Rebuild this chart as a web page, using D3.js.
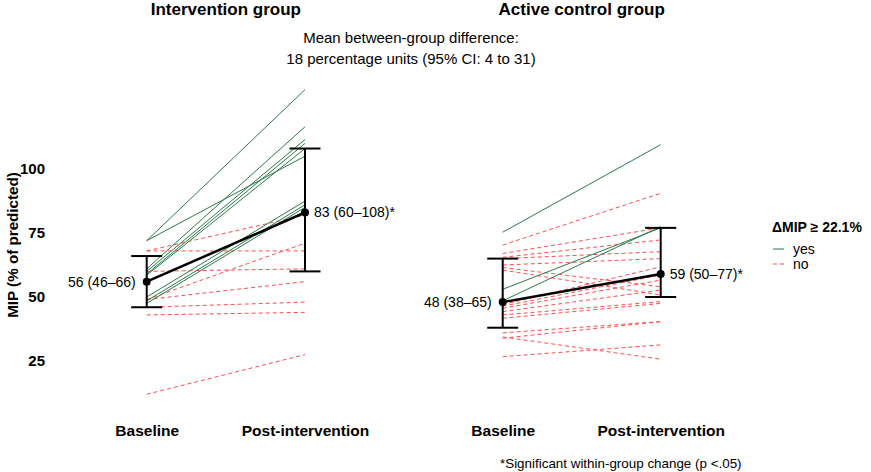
<!DOCTYPE html>
<html>
<head>
<meta charset="utf-8">
<script src="https://cdn.jsdelivr.net/npm/d3@7"></script>
<style>
  body { margin: 0; background: #fff; }
  svg { font-family: "Liberation Sans", Arial, sans-serif; }
</style>
</head>
<body>
<svg id="vimage" width="871" height="472"></svg>
<script>
// ---------------- data ----------------
var timepoints = ["Baseline", "Post-intervention"];
var groups = ["Intervention group", "Active control group"];
var yTicks = [25, 50, 75, 100];

// individual subjects: [baseline, post]
var interventionYes = [[72, 131], [72, 105], [61, 116.5], [60, 111.5], [59, 110], [58.5, 108], [50, 87.5], [48.5, 86], [47.5, 85]];
var interventionNo = [[68, 68], [68, 82], [60, 61], [49, 71], [49, 56], [46, 48], [43, 44], [12, 27.5]];
var controlYes = [[75.3, 109.5], [53, 77], [48.5, 77.5]];
var controlNo = [[70.3, 90.5], [67, 77], [65.5, 72.3], [65, 67.7], [62.5, 65], [61.5, 54], [60.5, 50.8],
                 [47, 61.8], [46.4, 58.6], [45.6, 56.6], [44.3, 52.7], [43, 48.2], [41.7, 47.5],
                 [36, 40.4], [34.4, 25.7], [33.9, 40.4], [26.7, 31.3]];

// group summary: median and range labels
var interventionMean = [56, 83];
var interventionLow = [46, 60];
var interventionHigh = [66, 108];
var controlMean = [48, 59];
var controlLow = [38, 50];
var controlHigh = [65, 77];
var summaryLabels = [["56 (46\u201366)", "83 (60\u2013108)*"], ["48 (38\u201365)", "59 (50\u201377)*"]];

var legendTitle = "\u0394MIP \u2265 22.1%";
var legendItems = ["yes", "no"];

// ---------------- drawing ----------------
var svg = d3.select("#vimage");
var green = "#2b7a4b";
var red = "#ff4d4d";

var y = d3.scaleLinear().domain([0, 100]).range([425, 169]);

var xLeft = d3.scalePoint().domain(timepoints).range([146.7, 305]);
var xRight = d3.scalePoint().domain(timepoints).range([502.7, 660.7]);

// y axis
var yAxis = svg.append("g")
  .attr("transform", "translate(50,0)")
  .call(d3.axisLeft(y).tickValues(yTicks).tickSize(0).tickPadding(5));
yAxis.select(".domain").remove();
yAxis.selectAll("text")
  .style("font-family", "Liberation Sans, Arial, sans-serif")
  .style("font-size", "15px")
  .style("font-weight", "bold")
  .style("fill", "#000");

svg.append("text")
  .attr("transform", "translate(12,245) rotate(-90)")
  .attr("text-anchor", "middle")
  .attr("dominant-baseline", "central")
  .style("font-size", "15.2px")
  .style("font-weight", "bold")
  .text("MIP (% of predicted)");

function drawPanel(x, yes, no, mean, low, high, labels, title) {
  var g = svg.append("g");
  var midX = (x.range()[0] + x.range()[1]) / 2;

  g.append("text")
    .attr("x", midX)
    .attr("y", 15)
    .attr("text-anchor", "middle")
    .style("font-size", "17px")
    .style("font-weight", "bold")
    .text(title);

  // x labels
  var xAxis = g.append("g")
    .attr("transform", "translate(0,420)")
    .call(d3.axisBottom(x).tickSize(0).tickPadding(5));
  xAxis.select(".domain").remove();
  xAxis.selectAll("text")
    .style("font-family", "Liberation Sans, Arial, sans-serif")
    .style("font-size", "15.5px")
    .style("font-weight", "bold")
    .style("fill", "#000");

  var line = function (d) {
    return "M" + x(timepoints[0]) + "," + y(d[0]) + "L" + x(timepoints[1]) + "," + y(d[1]);
  };

  g.selectAll(".no")
    .data(no)
    .enter().append("path")
    .attr("class", "no")
    .attr("d", line)
    .style("stroke", red)
    .style("stroke-width", 1)
    .style("stroke-dasharray", "4,3")
    .style("fill", "none");

  g.selectAll(".yes")
    .data(yes)
    .enter().append("path")
    .attr("class", "yes")
    .attr("d", line)
    .style("stroke", green)
    .style("stroke-width", 1)
    .style("fill", "none");

  // error bars
  timepoints.forEach(function (t, i) {
    var cx = x(t);
    g.append("line")
      .attr("x1", cx).attr("x2", cx)
      .attr("y1", y(low[i])).attr("y2", y(high[i]))
      .style("stroke", "#000").style("stroke-width", 2);
    [low[i], high[i]].forEach(function (v) {
      g.append("line")
        .attr("x1", cx - 15.5).attr("x2", cx + 15.5)
        .attr("y1", y(v)).attr("y2", y(v))
        .style("stroke", "#000").style("stroke-width", 2);
    });
  });

  g.append("path")
    .attr("d", line(mean))
    .style("stroke", "#000")
    .style("stroke-width", 2.5)
    .style("fill", "none");

  g.selectAll(".pt")
    .data(mean)
    .enter().append("circle")
    .attr("class", "pt")
    .attr("cx", function (d, i) { return x(timepoints[i]); })
    .attr("cy", function (d) { return y(d); })
    .attr("r", 4)
    .style("fill", "#000");

  g.append("text")
    .attr("x", x(timepoints[0]) - 11)
    .attr("y", y(mean[0]))
    .attr("dy", "0.35em")
    .attr("text-anchor", "end")
    .style("font-size", "14px")
    .text(labels[0]);

  g.append("text")
    .attr("x", x(timepoints[1]) + 9)
    .attr("y", y(mean[1]))
    .attr("dy", "0.35em")
    .attr("text-anchor", "start")
    .style("font-size", "14px")
    .text(labels[1]);
}

drawPanel(xLeft, interventionYes, interventionNo, interventionMean, interventionLow, interventionHigh, summaryLabels[0], groups[0]);
drawPanel(xRight, controlYes, controlNo, controlMean, controlLow, controlHigh, summaryLabels[1], groups[1]);

// between-group annotation
svg.append("text")
  .attr("x", 411).attr("y", 43)
  .attr("text-anchor", "middle")
  .style("font-size", "15px")
  .text("Mean between-group difference:");
svg.append("text")
  .attr("x", 411).attr("y", 64)
  .attr("text-anchor", "middle")
  .style("font-size", "15px")
  .text("18 percentage units (95% CI: 4 to 31)");

// footnote
svg.append("text")
  .attr("x", 500).attr("y", 468)
  .style("font-size", "13.4px")
  .text("*Significant within-group change (p <.05)");

// legend
var legend = svg.append("g").attr("transform", "translate(772,0)");
legend.append("text")
  .attr("x", 0).attr("y", 232)
  .style("font-size", "14px")
  .style("font-weight", "bold")
  .text(legendTitle);

var legendEl = legend.selectAll(".lg")
  .data(legendItems)
  .enter().append("g")
  .attr("class", "lg")
  .attr("transform", function (d, i) { return "translate(0," + (249 + i * 15) + ")"; });

legendEl.append("line")
  .attr("x1", 1).attr("x2", 12)
  .attr("y1", 0).attr("y2", 0)
  .style("stroke", function (d, i) { return i == 0 ? green : red; })
  .style("stroke-width", 1)
  .style("stroke-dasharray", function (d, i) { return i == 0 ? null : "4,3"; });

legendEl.append("text")
  .attr("x", 21).attr("y", 0)
  .attr("dy", "0.35em")
  .style("font-size", "14px")
  .text(function (d) { return d; });
</script>
</body>
</html>
